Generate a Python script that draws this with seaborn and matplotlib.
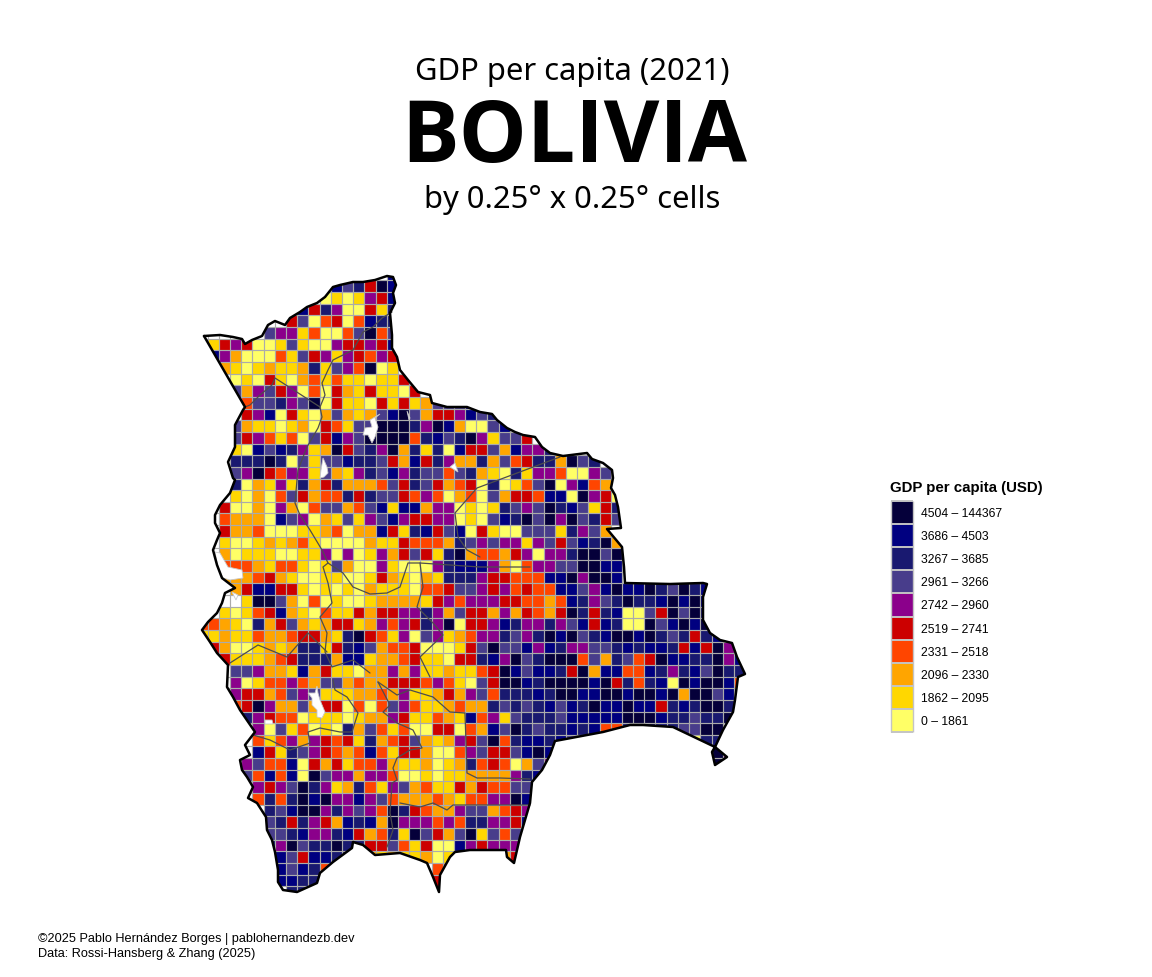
import numpy as np
import matplotlib
matplotlib.use("Agg")
import matplotlib.pyplot as plt
from matplotlib.colors import ListedColormap
from matplotlib.path import Path
import seaborn as sns

# classes, low to high
class_colors = ['#FFFF66', '#FFD700', '#FFA500', '#FF4500', '#CC0000',
                '#8B008B', '#483D8B', '#191970', '#000080', '#05003A']
class_labels = ['0 – 1861', '1862 – 2095', '2096 – 2330', '2331 – 2518', '2519 – 2741',
                '2742 – 2960', '2961 – 3266', '3267 – 3685', '3686 – 4503', '4504 – 144367']

# GDP class of each 0.25 degree cell, north to south ('.' = no data)
cell_rows = [
    ".................8",
    "............867498",
    "...........0101548",
    ".........847500417",
    "........4603403877",
    "......655130036936",
    "114540016100544548",
    ".85200031645154354",
    "..2101211271653901",
    "...0104102313110114",
    "...62564503042141104",
    "....366756904110414126668",
    "....45804102621268962445867",
    "...6211012043166999759820068",
    "...645313064856999937867951664",
    "...10868751294675927170844628557",
    "...777970616687764284752272634772967",
    "...6594355162157685766367210715530056",
    "...70215172472223647642340701369058326",
    "...10203642337476643530230624438809540",
    "..400205203662368188255010176569786147",
    "..322208650216156854455010687969596746",
    "..42230001123022841784680410066617562",
    "..100121231000021143332765655156468792",
    "..201110011505015246417923324505579969",
    "..333213310162005100057888520355669988",
    "..222342100110014210217775443338895998",
    "...2488441010102111033466545343388658988976978",
    "....199620301001222214535554433238756797789898",
    "..10134821031142445575264425243249747800649697",
    "3321072462124412535475904458755756848700968989",
    "11211322344217943150651235576579896789989767478",
    ".42001212771478623340001469668587556678788748495",
    "..41112347772881223411044785967999362763498877958",
    "...6652218241102252511211349868874928833875786977",
    "...5013353266232244435310649987999989473780989983",
    "...5442365611122325112425637778799889989989299688",
    "...349522624403036531123227676786879889884787997",
    "....75433011101225411321835167776888889998776779",
    ".....506130107263130044032869767787833777776699",
    ".....31352543417234621254693788786..........077",
    ".....841765432383144200356446898..............95",
    "....5633804241335211201273430265..............9",
    "....638380965525530010112222578",
    ".....5456975127315623114243366",
    ".....3737989558563222321335598",
    "......768995756539743225662345",
    "......674754287829555353775548",
    "......667855784237196426916365",
    "......75967797744631400854555",
    ".......8648877221211201....24",
    ".......86873.........33",
    ".......8877..........4",
    "........77...........4",
]

# country outline
border_x = [204, 220, 233, 242, 245, 252, 262, 268, 275, 285, 290, 300, 307, 317, 325, 333, 340, 353, 363,
            375, 387, 393, 396, 393, 395, 390, 392, 392, 397, 400, 408, 418, 430, 432, 447, 467, 480, 492,
            497, 507, 515, 523, 535, 542, 550, 563, 587, 592, 603, 612, 613, 611, 615, 618, 621, 607, 622,
            624, 625, 670, 703, 707, 703, 703, 710, 720, 732, 737, 745, 738, 735, 733, 723, 715, 727, 715,
            712, 715, 673, 643, 630, 603, 555, 550, 542, 532, 530, 520, 514, 507, 506, 470, 455, 450, 440,
            439, 433, 427, 420, 400, 375, 363, 353, 352, 333, 320, 317, 297, 283, 278, 278, 275, 272, 267,
            266, 257, 248, 253, 247, 242, 240, 250, 245, 255, 240, 233, 227, 228, 217, 210, 202, 208, 217,
            222, 225, 235, 222, 217, 213, 217, 220, 215, 215, 220, 230, 235, 233, 228, 235, 235, 243, 245]
border_y = [336, 335, 337, 339, 344, 340, 336, 325, 321, 325, 318, 312, 307, 303, 297, 287, 285, 282, 282,
            280, 276, 277, 285, 293, 303, 313, 335, 348, 357, 370, 380, 392, 395, 403, 407, 407, 412, 414,
            420, 428, 432, 435, 437, 447, 453, 456, 453, 459, 463, 470, 478, 488, 495, 507, 528, 529, 547,
            567, 583, 584, 583, 584, 597, 620, 633, 640, 643, 657, 674, 677, 700, 712, 730, 747, 757, 765,
            752, 747, 727, 725, 725, 732, 741, 755, 770, 782, 803, 837, 863, 857, 850, 850, 852, 857, 875,
            892, 877, 863, 860, 853, 855, 845, 842, 848, 862, 873, 883, 892, 890, 882, 870, 852, 840, 830,
            817, 803, 798, 787, 777, 770, 760, 755, 745, 732, 710, 697, 687, 665, 653, 642, 630, 622, 613,
            603, 593, 588, 578, 565, 550, 540, 533, 523, 515, 505, 493, 480, 478, 462, 447, 425, 410, 407]

# department lines
dept_x = [
    [392, 382, 373, 363, 353, 333, 328, 322, 325, 320, 275, 272, 260, 250, 245],
    [320, 322, 318, 307, 298, 297, 295, 300, 310, 322, 328, 323, 328, 332, 320, 327, 325, 332, 353, 370],
    [328, 343, 353, 370, 387, 400, 408, 420, 480, 530],
    [420, 423, 417, 433, 443, 420, 430],
    [230, 258, 287, 308, 318, 327],
    [253, 270, 290, 310, 308, 320, 340, 352, 358, 347, 335, 333],
    [378, 397, 410, 433, 450, 465, 467, 477, 500, 530],
    [378, 390, 383, 397, 413, 422, 410, 397, 393, 397, 392, 390, 393, 387],
    [400, 420, 433, 447, 453, 500, 530],
    [560, 477, 455, 458, 467, 480],
]
dept_y = [
    [312, 318, 327, 332, 350, 360, 370, 383, 395, 407, 378, 385, 395, 405, 407],
    [407, 417, 428, 447, 470, 480, 503, 515, 530, 550, 563, 567, 583, 603, 617, 633, 652, 667, 660, 673],
    [563, 573, 587, 594, 593, 587, 563, 563, 567, 567],
    [563, 587, 607, 623, 635, 657, 677],
    [663, 645, 657, 633, 643, 652],
    [735, 740, 750, 743, 732, 728, 732, 732, 713, 697, 690, 680],
    [682, 695, 690, 697, 712, 713, 773, 778, 778, 779],
    [682, 705, 712, 723, 730, 748, 750, 758, 768, 780, 783, 813, 830, 847],
    [803, 807, 803, 810, 805, 805, 805],
    [457, 488, 513, 537, 550, 557],
]

# lakes and salt flats with no data
lake_x = [
    [380, 375, 378, 375, 372, 368, 363, 365, 372, 370],
    [407, 410, 409],
    [323, 327, 328, 324, 320, 321],
    [455, 458, 450],
    [215, 220, 228, 242, 243, 230, 223, 218],
    [232, 238, 236],
    [317, 315, 308, 312, 312, 317, 317, 322, 325, 320, 318],
    [265, 272, 273, 265],
]
lake_y = [
    [414, 418, 427, 437, 443, 435, 435, 428, 427, 420],
    [411, 418, 420],
    [458, 467, 473, 477, 478, 470],
    [463, 472, 467],
    [552, 553, 567, 570, 578, 580, 578, 567],
    [592, 595, 600],
    [686, 693, 693, 698, 705, 710, 717, 718, 712, 700, 693],
    [720, 720, 724, 724],
]

W, H = 1152, 977
CELL_W, CELL_H = 11.2, 11.65
GRID_X0, GRID_Y0 = 196.3, 268.8
N_COLS = 49
N_ROWS = len(cell_rows)


def to_cell(xs, ys):
    return (np.array(xs) - GRID_X0) / CELL_W, (np.array(ys) - GRID_Y0) / CELL_H


sns.set_theme(style="white")
plt.rcParams['font.family'] = ['Liberation Sans', 'DejaVu Sans']

grid = np.array([[np.nan if c == '.' else float(c) for c in row.ljust(N_COLS, '.')]
                 for row in cell_rows])
cmap = ListedColormap(class_colors)

fig = plt.figure(figsize=(W / 100, H / 100), dpi=100, facecolor='white')
ax = fig.add_axes([GRID_X0 / W, 1 - (GRID_Y0 + CELL_H * N_ROWS) / H,
                   CELL_W * N_COLS / W, CELL_H * N_ROWS / H])
sns.heatmap(grid, mask=np.isnan(grid), cmap=cmap, vmin=-0.5, vmax=9.5, cbar=False,
            xticklabels=False, yticklabels=False, ax=ax)
ax.patch.set_alpha(0)

bx, by = to_cell(border_x, border_y)
outline = Path(np.column_stack([bx, by]))
ax.collections[0].set_clip_path(outline, ax.transData)

# cell lines drawn apart from the mesh, its own edges come out uneven
vl = ax.vlines(np.arange(N_COLS + 1), 0, N_ROWS, color='#ABABAB', lw=0.85, zorder=2)
hl = ax.hlines(np.arange(N_ROWS + 1), 0, N_COLS, color='#ABABAB', lw=0.85, zorder=2)
vl.set_clip_path(outline, ax.transData)
hl.set_clip_path(outline, ax.transData)

for xs, ys in zip(lake_x, lake_y):
    lx, ly = to_cell(xs, ys)
    ax.fill(lx, ly, color='white', ec='#C8C8C8', lw=0.6, zorder=3)
for xs, ys in zip(dept_x, dept_y):
    lx, ly = to_cell(xs, ys)
    ax.plot(lx, ly, color='#4D4D4D', lw=0.9, zorder=4)
ax.plot(np.append(bx, bx[0]), np.append(by, by[0]), color='black', lw=1.8, zorder=5, clip_on=False)
ax.set_xlim(0, N_COLS)
ax.set_ylim(N_ROWS, 0)

# legend, highest class on top
leg = fig.add_axes([891 / W, 1 - 732 / H, 22 / W, 231 / H])
sns.heatmap(np.arange(9, -1, -1).reshape(-1, 1), cmap=cmap, vmin=-0.5, vmax=9.5, cbar=False,
            xticklabels=False, yticklabels=class_labels[::-1], ax=leg)
leg.hlines(np.arange(11), 0, 1, color='#C4C4C4', lw=1.4, clip_on=False)
leg.vlines([0, 1], 0, 10, color='#C4C4C4', lw=1.0, clip_on=False)
leg.yaxis.tick_right()
leg.tick_params(axis='y', length=0, pad=5.5, labelsize=8.7, labelcolor='black', labelrotation=0)

fig.text(890 / W, 1 - 492 / H, 'GDP per capita (USD)', fontsize=10.8, fontweight='bold', color='black')

titles = [('GDP per capita (2021)', 80, 22.3),
          ('by 0.25° x 0.25° cells', 208, 22.3)]
for txt, base, size in titles:
    fig.text(572 / W, 1 - base / H, txt, ha='center', va='baseline', fontsize=size,
             family=['Noto Sans', 'DejaVu Sans'], color='black')

# no bold Noto Sans is installed, Open Sans Bold is its nearest
fig.text(574 / W, 1 - 162 / H, 'BOLIVIA', ha='center', va='baseline', fontsize=61.7,
         family=['Open Sans', 'DejaVu Sans'], fontweight='bold', color='black')

fig.text(38 / W, 1 - 942 / H, '©2025 Pablo Hernández Borges | pablohernandezb.dev', fontsize=9.2, color='black')
fig.text(38 / W, 1 - 957 / H, 'Data: Rossi-Hansberg & Zhang (2025)', fontsize=9.2, color='black')

fig.savefig('out.png', dpi=100)
